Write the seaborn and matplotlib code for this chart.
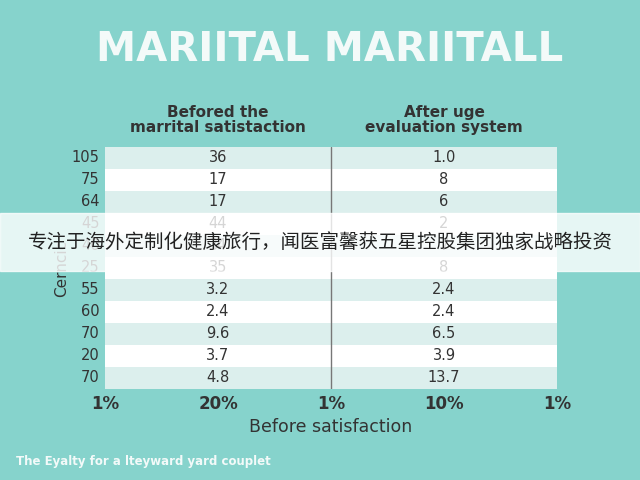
import numpy as np
import matplotlib
matplotlib.use("Agg")
import matplotlib.pyplot as plt
from matplotlib.colors import ListedColormap
import seaborn as sns

rows = ["105", "75", "64", "45", "40", "25", "55", "60", "70", "20", "70"]
before = ["36", "17", "17", "44", "34", "35", "3.2", "2.4", "9.6", "3.7", "4.8"]
after = ["1.0", "8", "6", "2", "7", "8", "2.4", "2.4", "6.5", "3.9", "13.7"]
columns = ["Befored the\nmarrital satistaction", "After uge\nevaluation system"]
x_ticks = ["1%", "20%", "1%", "10%", "1%"]

BG = "#86d3cc"
sns.set_theme(style="white")
plt.rcParams["font.family"] = ["DejaVu Sans", "Noto Sans CJK SC"]

fig = plt.figure(figsize=(6.4, 4.8), dpi=100, facecolor=BG)
ax = fig.add_axes([105 / 640, 91 / 480, 452 / 640, 242 / 480])

stripes = np.array([[i % 2, i % 2] for i in range(len(rows))])
annot = np.array([before, after]).T
sns.heatmap(stripes, ax=ax, cmap=ListedColormap(["#dcefed", "#ffffff"]),
            cbar=False, annot=annot, fmt="", annot_kws={"fontsize": 10.5, "color": "#333333"},
            linewidths=0)
ax.axvline(1, color="#777777", lw=1)

ax.set_yticks(np.arange(len(rows)) + 0.5)
ax.set_yticklabels(rows, rotation=0, fontsize=10.5, color="#333333")
ax.set_xticks([0, 0.5, 1, 1.5, 2])
ax.set_xticklabels(x_ticks, fontsize=12, fontweight="bold", color="#333333")
ax.tick_params(length=0, pad=4)
ax.set_xlabel("Before satisfaction", fontsize=12.5, color="#333333", labelpad=4)
ax.set_ylabel("Cerncic", fontsize=11, color="#333333", labelpad=2)

for i, c in enumerate(columns):
    fig.text((105 + 226 * i + 113) / 640, 1 - 120 / 480, c, ha="center", va="center",
             fontsize=11, fontweight="bold", color="#333333", linespacing=1.0)

fig.text(0.515, 1 - 50 / 480, "MARIITAL MARIITALL", ha="center", va="center",
         fontsize=29, fontweight="heavy", color="#f3faf9")

fig.patches.append(plt.Rectangle((0, 1 - 271 / 480), 1, 58 / 480, transform=fig.transFigure,
                                 facecolor="white", alpha=0.8, zorder=5))
fig.text(0.5, 1 - 242 / 480, "专注于海外定制化健康旅行，闻医富馨获五星控股集团独家战略投资",
         ha="center", va="center", fontsize=14, color="#222222", zorder=6,
         family=["Noto Sans CJK SC", "DejaVu Sans"])

fig.text(16 / 640, 1 - 462 / 480, "The Eyalty for a lteyward yard couplet", ha="left",
         va="center", fontsize=8.5, fontweight="bold", color="#f3faf9")

fig.savefig("out.png", dpi=100, facecolor=BG)
